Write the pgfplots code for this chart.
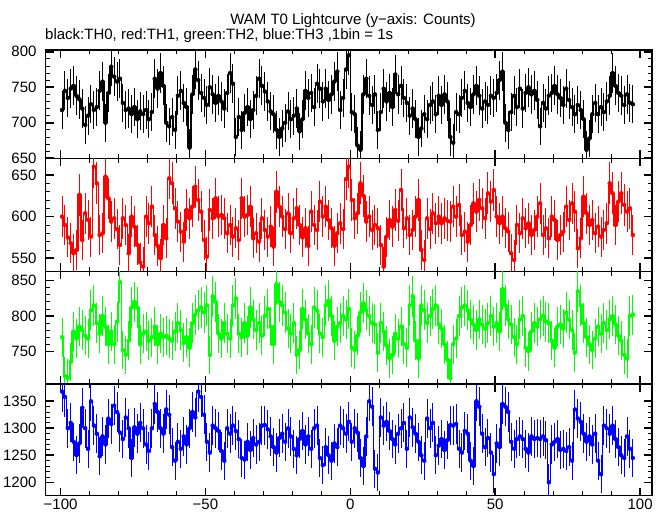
\documentclass[border=0pt]{standalone}
\usepackage{fontspec}
\setmainfont{Liberation Sans}
\usepackage{pgfplots}
\usepackage{pgfplotstable}
\pgfplotsset{compat=1.18}
\pgfplotstableread{
x a b c d
-100 718 600 770 1368
-99 745 590 715 1358
-98 735 575 712 1300
-97 748 568 735 1310
-96 752 556 778 1275
-95 738 560 768 1250
-94 733 626 785 1272
-93 720 572 780 1338
-92 697 604 772 1300
-91 710 596 768 1262
-90 726 576 808 1350
-89 718 660 815 1305
-88 722 640 790 1290
-87 745 578 775 1248
-86 758 580 800 1285
-85 700 648 785 1270
-84 742 622 760 1318
-83 779 594 778 1308
-82 765 598 760 1342
-81 758 585 792 1330
-80 762 566 848 1292
-79 728 598 752 1280
-78 718 590 745 1320
-77 720 556 765 1300
-76 712 600 812 1245
-75 722 588 820 1302
-74 705 566 812 1290
-73 716 545 760 1310
-72 712 540 775 1300
-71 718 600 778 1270
-70 705 592 765 1258
-69 715 612 770 1300
-68 762 578 785 1345
-67 748 565 760 1330
-66 770 550 775 1300
-65 752 590 770 1290
-64 700 574 772 1335
-63 695 646 768 1325
-62 708 640 765 1265
-61 690 610 778 1240
-60 738 594 790 1275
-59 745 582 780 1262
-58 728 570 762 1285
-57 722 608 770 1270
-56 665 598 755 1300
-55 740 612 790 1330
-54 775 636 802 1320
-53 760 620 808 1368
-52 742 606 812 1358
-51 735 572 805 1325
-50 725 552 815 1275
-49 750 608 745 1255
-48 740 598 828 1305
-47 728 622 820 1300
-46 738 600 775 1295
-45 730 602 768 1258
-44 720 598 790 1240
-43 742 580 775 1300
-42 770 590 768 1290
-41 755 576 815 1305
-40 680 586 825 1295
-39 708 572 775 1280
-38 690 622 770 1245
-37 714 600 790 1242
-36 722 602 772 1275
-35 705 612 812 1260
-34 718 574 795 1282
-33 738 580 780 1270
-32 762 570 790 1275
-31 752 598 772 1305
-30 744 584 800 1306
-29 730 576 810 1298
-28 716 588 785 1285
-27 712 564 760 1265
-26 690 630 845 1255
-25 680 612 820 1282
-24 692 600 815 1290
-23 700 585 805 1275
-22 716 604 782 1300
-21 705 580 775 1285
-20 710 598 790 1262
-19 720 610 745 1250
-18 688 590 752 1280
-17 705 575 810 1295
-16 745 586 795 1270
-15 735 565 775 1285
-14 742 606 760 1262
-13 722 590 812 1300
-12 755 584 808 1305
-11 748 618 775 1245
-10 730 600 770 1232
-9 748 612 815 1265
-8 732 596 822 1250
-7 740 586 800 1240
-6 758 565 765 1272
-5 772 580 785 1265
-4 718 592 790 1305
-3 735 585 800 1300
-2 775 645 795 1290
-1 795 660 810 1312
0 715 620 755 1275
1 712 598 752 1300
2 668 604 772 1292
3 662 640 805 1245
4 740 625 818 1230
5 762 594 808 1285
6 738 600 800 1350
7 725 584 790 1340
8 740 590 788 1225
9 690 586 748 1218
10 715 566 790 1320
11 748 540 778 1305
12 730 576 758 1312
13 742 596 740 1295
14 722 588 745 1280
15 768 608 775 1270
16 740 595 768 1290
17 752 632 785 1300
18 735 586 760 1310
19 728 598 755 1262
20 710 578 815 1320
21 720 584 828 1302
22 705 600 765 1290
23 680 620 740 1275
24 692 560 815 1250
25 712 548 808 1240
26 705 598 790 1318
27 725 585 800 1300
28 730 604 810 1310
29 712 592 815 1250
30 738 600 788 1268
31 725 592 782 1280
32 740 598 760 1260
33 730 595 738 1278
34 680 594 712 1306
35 672 612 760 1305
36 715 600 768 1308
37 712 614 800 1262
38 735 578 812 1255
39 745 582 815 1295
40 728 570 808 1290
41 722 590 795 1240
42 740 616 788 1230
43 752 606 780 1350
44 738 620 795 1340
45 720 610 788 1290
46 730 598 782 1265
47 725 628 790 1282
48 738 618 800 1255
49 735 632 785 1215
50 742 600 790 1272
51 760 592 778 1265
52 772 600 838 1345
53 700 586 815 1340
54 690 582 795 1330
55 715 556 788 1275
56 738 548 770 1262
57 722 590 760 1280
58 748 580 795 1285
59 720 598 800 1280
60 742 586 755 1262
61 750 592 750 1255
62 740 578 778 1285
63 745 584 790 1280
64 732 600 785 1282
65 695 616 795 1280
66 728 578 800 1285
67 720 586 792 1278
68 738 574 790 1200
69 742 600 765 1270
70 752 596 755 1275
71 740 572 785 1280
72 735 578 788 1260
73 725 582 782 1262
74 748 612 805 1258
75 732 596 795 1265
76 722 616 780 1240
77 712 606 748 1335
78 725 562 835 1318
79 718 574 815 1312
80 705 624 790 1290
81 662 604 770 1275
82 678 590 760 1285
83 712 596 752 1270
84 728 580 768 1290
85 712 588 785 1240
86 722 576 775 1215
87 715 584 790 1305
88 730 592 780 1300
89 738 640 795 1290
90 770 628 800 1305
91 752 590 788 1280
92 742 618 772 1265
93 738 628 765 1250
94 725 614 745 1245
95 740 606 740 1285
96 728 610 800 1262
97 726 578 802 1245
98 726 578 802 1245
}\lc

\pgfplotsset{
  panel/.style={
    scale only axis, width=606.5bp,
    xmin=-105.2, xmax=104.1,
    xtick={-100,-50,0,50,100}, minor x tick num=4,
    minor y tick num=4,
    tick align=inside, xtick pos=both, ytick pos=both,
    major tick length=8bp, minor tick length=4.5bp,
    major tick style={line width=1.6bp, black},
    minor tick style={line width=0.8bp, black},
    axis line style={line width=1.2bp},
    ticklabel style={font=\fontsize{15bp}{18bp}\selectfont},
    /pgf/number format/assume math mode=true,
    /pgf/number format/1000 sep={},
    yticklabel style={xshift=-5.5bp},
    xticklabels={},
  },
  step/.style={const plot, line width=1.4bp, #1},
  ebar/.style={only marks, mark=none, #1,
    restrict x to domain=-100:98,
    error bars/.cd, y dir=both, y explicit, error mark=none,
    error bar style={line width=1bp, solid, #1}},
}

\begin{document}
\begin{tikzpicture}
\useasboundingbox (0,0) rectangle (662bp,515bp);

\node[anchor=base, inner sep=0, font=\fontsize{15bp}{18bp}\selectfont] at (353bp,490bp) {WAM T0 Lightcurve (y−axis: Counts)};
\node[anchor=base west, inner sep=0, font=\fontsize{15bp}{18bp}\selectfont] at (45bp,475bp) {black:TH0, red:TH1, green:TH2, blue:TH3 ,1bin = 1s};

% panel 1: TH0
\begin{axis}[panel, at={(45.5bp,356.7bp)}, anchor=south west, height=108.3bp,
  ymin=650, ymax=802.4, ytick={650,700,750,800}]
\addplot[step=black] table[x=x, y=a] {\lc};
\addplot[ebar=black] table[x expr=\thisrow{x}+0.5, y=a, y error expr=sqrt(\thisrow{a})] {\lc};
\end{axis}

% panel 2: TH1
\begin{axis}[panel, at={(45.5bp,243.7bp)}, anchor=south west, height=113bp,
  ymin=534.4, ymax=670, ytick={550,600,650}]
\addplot[step=red] table[x=x, y=b] {\lc};
\addplot[ebar=red] table[x expr=\thisrow{x}+0.5, y=b, y error expr=sqrt(\thisrow{b})] {\lc};
\end{axis}

% panel 3: TH2
\begin{axis}[panel, at={(45.5bp,131bp)}, anchor=south west, height=112.7bp,
  ymin=703.7, ymax=863.3, ytick={750,800,850}]
\addplot[step=green] table[x=x, y=c] {\lc};
\addplot[ebar=green] table[x expr=\thisrow{x}+0.5, y=c, y error expr=sqrt(\thisrow{c})] {\lc};
\end{axis}

% panel 4: TH3
\begin{axis}[panel, at={(45.5bp,19.3bp)}, anchor=south west, height=111.7bp,
  ymin=1175.2, ymax=1382, ytick={1200,1250,1300,1350},
  xticklabels={−100,−50,0,50,100}]
\addplot[step=blue] table[x=x, y=d] {\lc};
\addplot[ebar=blue] table[x expr=\thisrow{x}+0.5, y=d, y error expr=sqrt(\thisrow{d})] {\lc};
\end{axis}
\end{tikzpicture}
\end{document}
